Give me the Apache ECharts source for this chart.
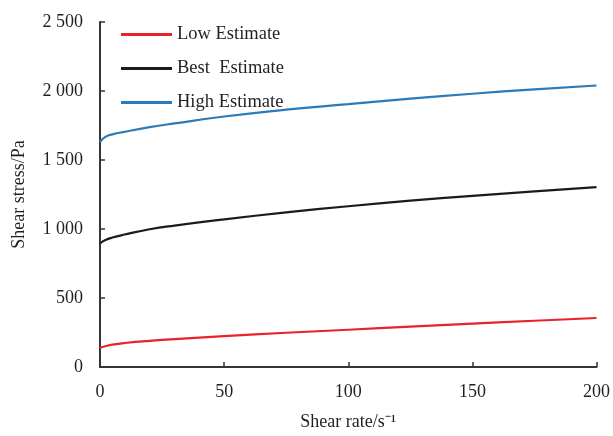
<!DOCTYPE html>
<html><head><meta charset="utf-8">
<script src="https://cdn.jsdelivr.net/npm/echarts@6/dist/echarts.min.js"></script>
<style>html,body{margin:0;padding:0;background:#fff}#c{width:613px;height:436px}</style>
</head><body><div id="c"></div>
<script>
const shearRate = [0, 2, 5, 10, 20, 30, 50, 75, 100, 125, 150, 175, 200];
const lowEstimate  = [140, 150, 162, 174, 190, 202, 224, 248, 270, 292, 314, 335, 355];
const bestEstimate = [895, 918, 938, 960, 998, 1025, 1070, 1120, 1165, 1205, 1240, 1272, 1303];
const highEstimate = [1630, 1666, 1686, 1705, 1738, 1765, 1815, 1865, 1905, 1945, 1980, 2012, 2040];
const seriesNames = ['Low Estimate', 'Best  Estimate', 'High Estimate'];
const yTicks = [0, 500, 1000, 1500, 2000, 2500];

const font = '"Liberation Serif", "Times New Roman", serif';
const axisColor = '#3b3333';
const textColor = '#231f20';
function pairs(ys){ return shearRate.map((x,i)=>[x, ys[i]]); }
function fmt(v){ return String(v).replace(/\B(?=(\d{3})+(?!\d))/g, ' '); }

const chart = echarts.init(document.getElementById('c'), null, {renderer:'canvas'});
chart.setOption({
  animation:false,
  backgroundColor:'#fff',
  grid:{left:100, top:22, right:13, bottom:63, containLabel:false},
  legend:{
    orient:'vertical', left:116, top:20, itemWidth:51, itemHeight:3, itemGap:15,
    icon:'rect',
    textStyle:{fontFamily:font, fontSize:18.5, color:textColor},
    data:seriesNames
  },
  xAxis:{
    type:'value', min:0, max:200, interval:50,
    name:'Shear rate/s\u207B\u00B9', nameLocation:'middle', nameGap:46,
    nameTextStyle:{fontFamily:font, fontSize:18, color:textColor},
    axisLine:{show:true, lineStyle:{color:axisColor, width:2}},
    axisTick:{show:true, inside:true, length:5, lineStyle:{color:axisColor, width:1.5}},
    axisLabel:{fontFamily:font, fontSize:18, color:textColor, margin:16},
    splitLine:{show:false}
  },
  yAxis:{
    type:'value', min:yTicks[0], max:yTicks[yTicks.length-1], interval:500,
    name:'Shear stress/Pa', nameLocation:'middle', nameGap:72, nameRotate:90,
    nameTextStyle:{fontFamily:font, fontSize:18, color:textColor},
    axisLine:{show:true, lineStyle:{color:axisColor, width:2}},
    axisTick:{show:true, inside:true, length:5, lineStyle:{color:axisColor, width:1.5}},
    axisLabel:{fontFamily:font, fontSize:18, color:textColor, margin:17, formatter:fmt},
    splitLine:{show:false}
  },
  series:[
    {name:seriesNames[0], type:'line', smooth:true, showSymbol:false, data:pairs(lowEstimate), color:'#e8232a', lineStyle:{width:2.2}},
    {name:seriesNames[1], type:'line', smooth:true, showSymbol:false, data:pairs(bestEstimate), color:'#1b1b1b', lineStyle:{width:2.2}},
    {name:seriesNames[2], type:'line', smooth:true, showSymbol:false, data:pairs(highEstimate), color:'#2b7bba', lineStyle:{width:2.2}}
  ]
});
</script></body></html>
